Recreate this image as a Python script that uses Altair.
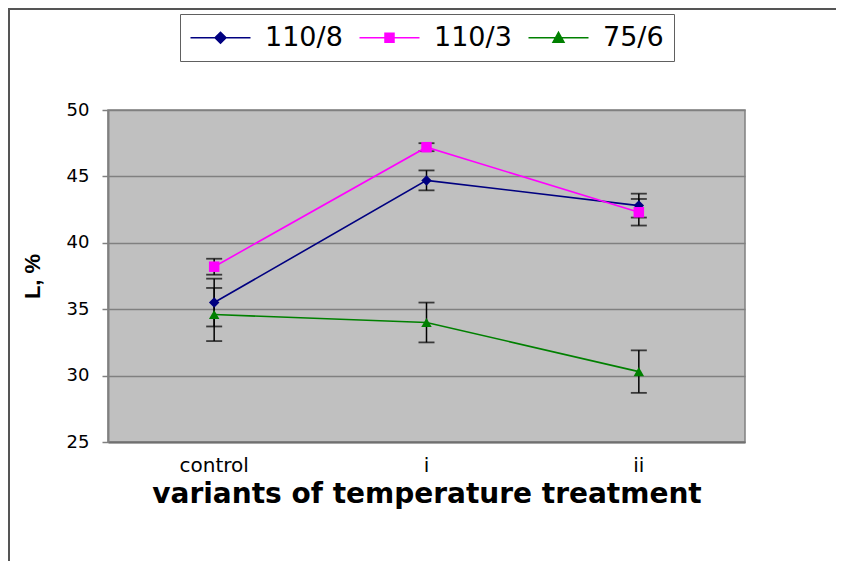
import altair as alt
import pandas as pd

categories = ["control", "i", "ii"]
series = ["110/8", "110/3", "75/6"]
colors = ["#000080", "#FF00FF", "#008000"]
markers = ["diamond", "square", "triangle-up"]
legend_paths = [
    "M-6,0H6M0,-1.1L1.1,0L0,1.1L-1.1,0Z",
    "M-6,0H6M-0.9,-0.9H0.9V0.9H-0.9Z",
    "M-6,0H6M0,-1.1L1.1,0.9H-1.1Z",
]

v_110_8 = [35.5, 44.7, 42.8]
e_110_8 = [1.8, 0.75, 0.9]
v_110_3 = [38.2, 47.2, 42.3]
e_110_3 = [0.6, 0.3, 1.0]
v_75_6 = [34.6, 34.0, 30.3]
e_75_6 = [2.0, 1.5, 1.6]

y_ticks = [25, 30, 35, 40, 45, 50]

rows = []
for s, vals, errs in zip(series, [v_110_8, v_110_3, v_75_6], [e_110_8, e_110_3, e_75_6]):
    for c, v, e in zip(categories, vals, errs):
        rows.append({"category": c, "series": s, "value": v, "lo": v - e, "hi": v + e})
df = pd.DataFrame(rows)

x_enc = alt.X(
    "category:N",
    sort=categories,
    scale=alt.Scale(domain=categories),
    axis=alt.Axis(
        title="variants of temperature treatment",
        titleFont="DejaVu Sans",
        titleFontWeight="bold",
        titleFontSize=28,
        titleColor="#000",
        titlePadding=5,
        labelFont="DejaVu Sans",
        labelFontSize=20,
        labelColor="#000",
        labelAngle=0,
        labelPadding=13,
        ticks=False,
        domainColor="#707070",
        domainWidth=2,
        grid=False,
    ),
)
y_scale = alt.Scale(domain=[25, 50], nice=False, zero=False)
y_axis = alt.Axis(
    title="L, %",
    titleFont="Liberation Sans",
    titleFontWeight="bold",
    titleFontSize=22,
    titleColor="#000",
    titlePadding=22,
    values=y_ticks,
    labelFont="DejaVu Sans",
    labelFontSize=18,
    labelColor="#000",
    labelPadding=13,
    tickSize=6,
    tickColor="#808080",
    tickWidth=1.5,
    domainColor="#808080",
    domainWidth=2,
    grid=True,
    gridColor="#808080",
    gridWidth=1.5,
)

base = alt.Chart(df)

frame = base.mark_rect(fill="transparent", stroke="#555555", strokeWidth=2, clip=False).encode(
    x=alt.value(-99), x2=alt.value(760), y=alt.value(-101), y2=alt.value(470)
)

err_rule = base.mark_rule(color="#000", strokeWidth=1.5).encode(
    x=x_enc, y=alt.Y("lo:Q", scale=y_scale, axis=y_axis), y2="hi:Q"
)
cap_lo = base.mark_tick(color="#000", thickness=1.8, size=16).encode(
    x=x_enc, y=alt.Y("lo:Q", scale=y_scale, axis=y_axis)
)
cap_hi = base.mark_tick(color="#000", thickness=1.8, size=16).encode(
    x=x_enc, y=alt.Y("hi:Q", scale=y_scale, axis=y_axis)
)

leg = alt.Legend(
    title=None,
    orient="none",
    legendX=72,
    legendY=-96,
    direction="horizontal",
    labelFont="DejaVu Sans",
    labelFontSize=27,
    labelColor="#000",
    labelOffset=31,
    symbolOffset=17,
    columnPadding=13,
    padding=10,
    symbolSize=100,
    symbolStrokeWidth=1.5,
    symbolOpacity=1,
    strokeColor="#606060",
    fillColor="#FFFFFF",
)

lines = base.mark_line(strokeWidth=1.6).encode(
    x=x_enc,
    y=alt.Y("value:Q", scale=y_scale, axis=y_axis),
    color=alt.Color("series:N", scale=alt.Scale(domain=series, range=colors), legend=leg),
    shape=alt.Shape("series:N", scale=alt.Scale(domain=series, range=legend_paths), legend=leg),
)

point_layers = [
    base.transform_filter(alt.datum.series == s)
    .mark_point(filled=True, size=110, opacity=1, shape=m, color=c)
    .encode(x=x_enc, y=alt.Y("value:Q", scale=y_scale, axis=y_axis))
    for s, m, c in zip(series, markers, colors)
]

chart = (
    alt.layer(frame, err_rule, cap_lo, cap_hi, lines, *point_layers)
    .properties(
        width=637,
        height=332,
        autosize=alt.AutoSizeParams(type="none"),
        padding={"left": 100, "top": 102, "right": 91, "bottom": 119},
        background="#FFFFFF",
    )
    .configure_view(fill="#C0C0C0", stroke="#808080", strokeWidth=1.5)
)

chart.save("out.html", embed_options={"renderer": "svg", "actions": False})
